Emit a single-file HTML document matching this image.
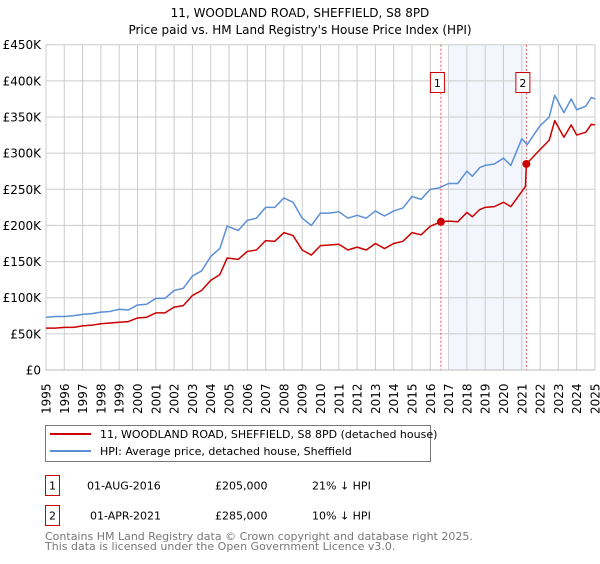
<!DOCTYPE html>
<html><head><meta charset="utf-8"><style>
body{margin:0;background:#fff;font-family:"DejaVu Sans","Liberation Sans",sans-serif;}
svg text{font-family:"DejaVu Sans","Liberation Sans",sans-serif;}
</style></head><body>
<svg id="chart" width="600" height="560" viewBox="0 0 600 560" xmlns="http://www.w3.org/2000/svg">
<text x="300" y="17" text-anchor="middle" font-size="12">11, WOODLAND ROAD, SHEFFIELD, S8 8PD</text>
<text x="300" y="34" text-anchor="middle" font-size="12">Price paid vs. HM Land Registry's House Price Index (HPI)</text>
<g id="plot"></g>
<g>
<rect x="45.5" y="425.5" width="385" height="36" fill="#fff" stroke="#777"/>
<line x1="50" y1="434" x2="91" y2="434" stroke="#cc0000" stroke-width="2"/>
<text x="100" y="438" font-size="11">11, WOODLAND ROAD, SHEFFIELD, S8 8PD (detached house)</text>
<line x1="50" y1="451" x2="91" y2="451" stroke="#5b8fd6" stroke-width="2"/>
<text x="100" y="455" font-size="11">HPI: Average price, detached house, Sheffield</text>
</g>
<g font-size="11">
<rect x="45.5" y="475.5" width="14" height="20" fill="#fff" stroke="#cc0000"/>
<text x="52.5" y="489.5" text-anchor="middle">1</text>
<text x="87" y="489.5">01-AUG-2016</text>
<text x="215" y="489.5">£205,000</text>
<text x="312" y="489.5">21% ↓ HPI</text>
<rect x="45.5" y="505.5" width="14" height="20" fill="#fff" stroke="#cc0000"/>
<text x="52.5" y="519.5" text-anchor="middle">2</text>
<text x="90" y="519.5">01-APR-2021</text>
<text x="215" y="519.5">£285,000</text>
<text x="312" y="519.5">10% ↓ HPI</text>
</g>
<g fill="#777" font-size="11">
<text x="45" y="540">Contains HM Land Registry data © Crown copyright and database right 2025.</text>
<text x="45" y="550">This data is licensed under the Open Government Licence v3.0.</text>
</g>
</svg>
<script>
const yTicks=[0,50000,100000,150000,200000,250000,300000,350000,400000,450000];
const yTickLabels=["£0","£50K","£100K","£150K","£200K","£250K","£300K","£350K","£400K","£450K"];
const xYears=[1995,1996,1997,1998,1999,2000,2001,2002,2003,2004,2005,2006,2007,2008,2009,2010,2011,2012,2013,2014,2015,2016,2017,2018,2019,2020,2021,2022,2023,2024,2025];
const hpiDates=[1995,1995.5,1996,1996.5,1997,1997.5,1998,1998.5,1999,1999.5,2000,2000.5,2001,2001.5,2002,2002.5,2003,2003.5,2004,2004.5,2004.9,2005.5,2006,2006.5,2007,2007.5,2008,2008.5,2009,2009.5,2010,2010.5,2011,2011.5,2012,2012.5,2013,2013.5,2014,2014.5,2015,2015.5,2016,2016.5,2017,2017.5,2018,2018.3,2018.7,2019,2019.5,2020,2020.4,2021,2021.3,2022,2022.5,2022.8,2023.3,2023.7,2024,2024.5,2024.8,2025];
const hpiValues=[73000,74000,74000,75000,77000,78000,80000,81000,84000,83000,90000,91000,99000,99000,110000,113000,130000,137000,157000,168000,199000,193000,207000,210000,225000,225000,238000,232000,210000,200000,217000,217000,219000,210000,214000,210000,220000,213000,220000,224000,240000,236000,250000,252000,258000,258000,275000,268000,280000,283000,285000,293000,283000,320000,312000,338000,350000,380000,356000,375000,360000,365000,377000,375000];
const priceDates=[1995,1995.5,1996,1996.5,1997,1997.5,1998,1998.5,1999,1999.5,2000,2000.5,2001,2001.5,2002,2002.5,2003,2003.5,2004,2004.5,2004.9,2005.5,2006,2006.5,2007,2007.5,2008,2008.5,2009,2009.5,2010,2010.5,2011,2011.5,2012,2012.5,2013,2013.5,2014,2014.5,2015,2015.5,2016,2016.58,2017,2017.5,2018,2018.3,2018.7,2019,2019.5,2020,2020.4,2021.2,2021.25,2022,2022.5,2022.8,2023.3,2023.7,2024,2024.5,2024.8,2025];
const priceValues=[58000,58000,59000,59000,61000,62000,64000,65000,66000,67000,72000,73000,79000,79000,87000,89000,103000,110000,124000,132000,155000,153000,164000,166000,179000,178000,190000,186000,166000,159000,172000,173000,174000,166000,170000,166000,175000,168000,175000,178000,190000,187000,199000,205000,206000,205000,218000,212000,222000,225000,226000,232000,226000,254000,285000,305000,318000,345000,322000,339000,325000,329000,340000,339000];
const saleDates=[2016.58,2021.25];
const saleValues=[205000,285000];
const saleLabels=["1","2"];
const shadeRange=[2017.05,2021.2];

const NS="http://www.w3.org/2000/svg";
const L=46,R=595,T=44.7,B=370;
const xs=d=>L+(d-1995)/(2025-1995)*(R-L);
const ys=v=>B-v/450000*(B-T);
const plot=document.getElementById('plot');
function mk(tag,attrs,parent){const e=document.createElementNS(NS,tag);for(const k in attrs)e.setAttribute(k,attrs[k]);(parent||plot).appendChild(e);return e;}
const sh=mk('rect',{x:xs(shadeRange[0]),y:T,width:xs(shadeRange[1])-xs(shadeRange[0]),height:B-T,fill:'#eef3fc',opacity:0.7});


yTicks.forEach((v,i)=>{
 const g=mk('line',{x1:L,x2:R,y1:ys(v),y2:ys(v),stroke:'#ccc','stroke-width':1});
 
 
 const t=mk('text',{x:L-5,y:ys(v)+4.5,'text-anchor':'end','font-size':12});
 t.textContent=yTickLabels[i];
 
 
});
xYears.forEach(yr=>{
 const g=mk('line',{x1:xs(yr),x2:xs(yr),y1:T,y2:B,stroke:'#ccc','stroke-width':1});
 
 
 const t=mk('text',{x:0,y:0,'font-size':12,transform:`translate(${xs(yr)+4.5},${414}) rotate(-90)`});
 t.textContent=String(yr);
 
 
});
saleDates.forEach((d,i)=>{
 const l=mk('line',{x1:xs(d),x2:xs(d),y1:T,y2:B,stroke:'#e05555','stroke-width':1,'stroke-dasharray':'2,2'});
 
 
 const bx=xs(d)-3.5;
 const r=mk('rect',{x:bx-7,y:72.5,width:14,height:20,fill:'#fff',stroke:'#cc0000'});
 
 
 const t=mk('text',{x:bx,y:87,'text-anchor':'middle','font-size':11});
 t.textContent=saleLabels[i];
 
 
});
function line(dates,vals,color,name){
 const p=mk('polyline',{points:dates.map((d,i)=>xs(d)+','+ys(vals[i])).join(' '),fill:'none',stroke:color,'stroke-width':1.5,'stroke-linejoin':'round'});
 
 
}
line(hpiDates,hpiValues,'#5b8fd6','hpi-line');
line(priceDates,priceValues,'#cc0000','price-line');
saleDates.forEach((d,i)=>{
 const c=mk('circle',{cx:xs(d),cy:ys(saleValues[i]),r:4,fill:'#cc0000'});
 
 
});
const ax=mk('line',{x1:L,x2:R,y1:B,y2:B,stroke:'#bbb'});


</script>
</body></html>
